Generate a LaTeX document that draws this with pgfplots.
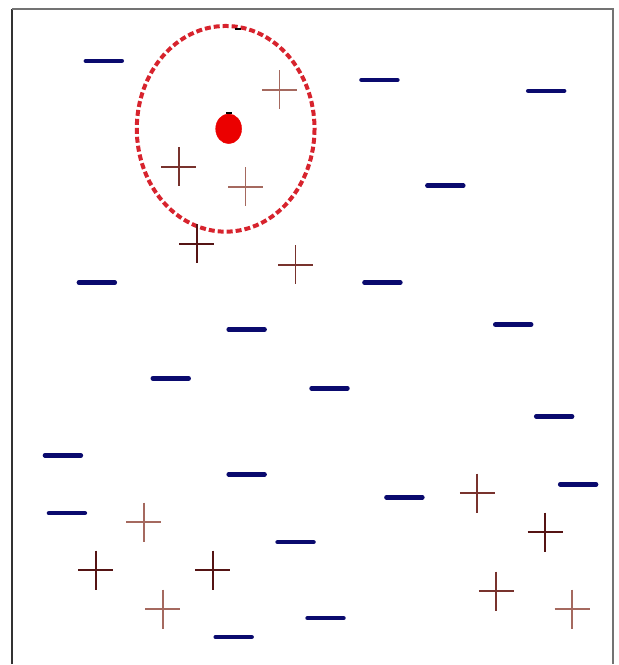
\documentclass[border=0pt]{standalone}
\usepackage{pgfplots}
\pgfplotsset{compat=1.18}

\definecolor{minusblue}{RGB}{10,10,110}
\definecolor{plusdark}{RGB}{85,20,20}
\definecolor{plusmid}{RGB}{120,50,45}
\definecolor{pluslight}{RGB}{165,105,95}
\definecolor{dotred}{RGB}{235,0,0}
\definecolor{ringred}{RGB}{215,35,45}

\begin{document}
\begin{tikzpicture}
\begin{axis}[
 width=619bp, height=665bp, scale only axis,
 xmin=0, xmax=619, ymin=0, ymax=665,
 y dir=reverse,
 hide axis, clip=false,
]

% frame (left, top, right; bottom is cut off)
\addplot[black!80, line width=2bp] coordinates {(12,665) (12,9)};
\addplot[black!55, line width=2bp] coordinates {(12,9) (614,9) (614,665)};

% class "-"
\addplot[only marks, mark=-, mark size=18bp, minusblue,
 mark options={line width=4.5bp, line cap=round}] coordinates {
 (104,61) (380,80) (547,91) (446,186) (97,283) (383,283)
 (247,330) (514,325) (171,379) (330,389) (555,417) (63,456)
 (247,475) (67,514) (405,498) (579,485) (296,543) (326,619) (234,638)
};

% class "+"
\addplot[only marks, mark=+, mark size=17.5bp, plusdark,
 mark options={line width=2bp, yscale=1.12}] coordinates {
 (197,244) (96,571) (213,571) (546,533)
};
\addplot[only marks, mark=+, mark size=17.5bp, plusmid,
 mark options={line width=1.8bp, yscale=1.12}] coordinates {
 (179,167) (296,265) (478,494) (497,592)
};
\addplot[only marks, mark=+, mark size=17.5bp, pluslight,
 mark options={line width=1.6bp, yscale=1.12}] coordinates {
 (280,90) (246,187) (144,523) (163,610) (573,610)
};

% query point
\addplot[only marks, mark=*, mark size=13bp, dotred, draw=none,
 mark options={yscale=1.15}] coordinates {(229,129)};
\addplot[only marks, mark=-, mark size=3bp, black,
 mark options={line width=2bp}] coordinates {(229,113) (238,29)};

% neighbourhood
\draw[ringred, line width=4bp, dash pattern=on 6bp off 3bp]
 (axis cs:226,129) ellipse [x radius=89, y radius=103];

\end{axis}
\path (current axis.south west) rectangle (current axis.north east);
\end{tikzpicture}
\end{document}
